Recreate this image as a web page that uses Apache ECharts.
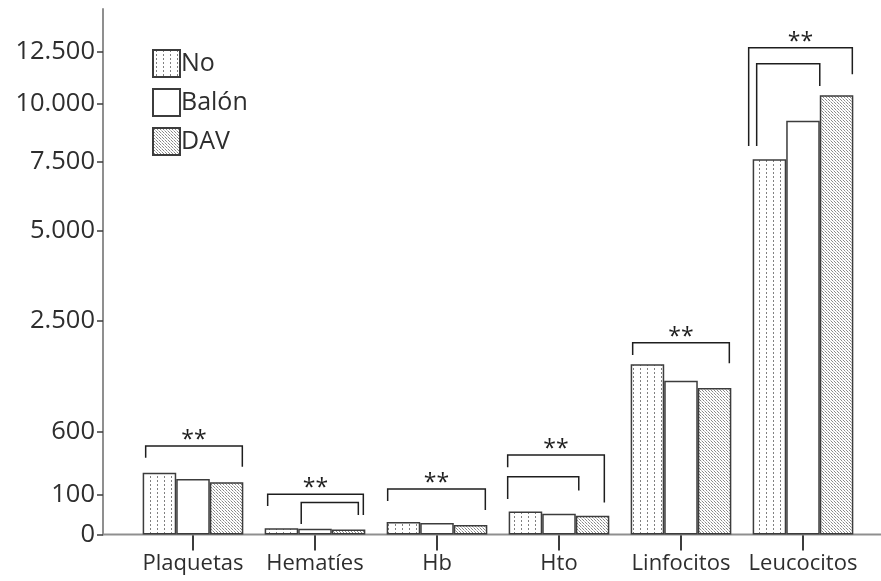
<!DOCTYPE html>
<html>
<head>
<meta charset="utf-8">
<script src="https://cdn.jsdelivr.net/npm/echarts@6/dist/echarts.min.js"></script>
<style>
  html, body { margin: 0; padding: 0; background: #ffffff; }
  #chart { width: 881px; height: 581px; }
</style>
</head>
<body>
<div id="chart"></div>
<script>
// ---- data ---------------------------------------------------------------
const categories = ['Plaquetas', 'Hematíes', 'Hb', 'Hto', 'Linfocitos', 'Leucocitos'];
const groupNames = ['No', 'Balón', 'DAV'];
const valuesNo    = [226, 5.0, 13.5, 37, 1600, 7600];
const valuesBalon = [184, 4.6, 12.0, 31, 1310, 9220];
const valuesDav   = [164, 3.7,  9.0, 26, 1190, 10380];
const tickValues  = [0, 100, 600, 2500, 5000, 7500, 10000, 12500];

// significance brackets: category, groups compared (0 = No, 1 = Balón, 2 = DAV),
// height of the bracket and of each leg's end, in data units
const brackets = [
  { cat: 0, from: 0, to: 2, top: 448,   fromEnd: 341,  toEnd: 269,   star: true },
  { cat: 1, from: 0, to: 2, top: 101,   fromEnd: 54,   toEnd: 28,    star: true },
  { cat: 1, from: 1, to: 2, top: 67,    fromEnd: 10.3, toEnd: 28,    star: false },
  { cat: 2, from: 0, to: 2, top: 127,   fromEnd: 72,   toEnd: 41.5,  star: true },
  { cat: 3, from: 0, to: 2, top: 365,   fromEnd: 265,  toEnd: 67,    star: true },
  { cat: 3, from: 0, to: 1, top: 199,   fromEnd: 80,   toEnd: 120,   star: false },
  { cat: 4, from: 0, to: 2, top: 2020,  fromEnd: 1773, toEnd: 1616,  star: true },
  { cat: 5, from: 0, to: 2, top: 12730, fromEnd: 8140, toEnd: 11390, star: true },
  { cat: 5, from: 0, to: 1, top: 11910, fromEnd: 8140, toEnd: 10820, star: false }
];
// horizontal inset (px) of each bracket leg from its bar edge
const legInsets = [[3, 1], [3, 2], [3, 7], [1, 2], [-1, 5], [-1, -3], [2, 2], [-4, 1], [4, 0]];

// ---- layout -------------------------------------------------------------
const FONT = '"Open Sans", "DejaVu Sans", sans-serif';
const TEXT = '#2e2e2e';
const GRID_LEFT = 132, GRID_RIGHT = 17, GRID_TOP = 9, GRID_BOTTOM = 46.5;
const Y_OFFSET = 29;
const CAT_GAP = 0.175;
const AXIS_MAX = 120.94;

// square-root value scale (axis baseline sits slightly above the root origin)
const SCALE_SHIFT = 0.8;
function toAxis(v) { return Math.max(0, Math.sqrt(v) - SCALE_SHIFT); }

function thousands(v) {
  return String(v).replace(/\B(?=(\d{3})+(?!\d))/g, '.');
}

// fill patterns
function makePattern(kind) {
  const c = document.createElement('canvas');
  const ctx = c.getContext('2d');
  if (kind === 'lines') {
    c.width = 7; c.height = 4;
    ctx.fillStyle = '#ffffff'; ctx.fillRect(0, 0, 7, 4);
    ctx.fillStyle = '#808080'; ctx.fillRect(3, 0, 1, 2);
  } else if (kind === 'dots') {
    c.width = 3; c.height = 3;
    ctx.fillStyle = '#ffffff'; ctx.fillRect(0, 0, 3, 3);
    ctx.fillStyle = '#8a8a8a';
    ctx.fillRect(0, 0, 1, 1); ctx.fillRect(1, 1, 1, 1);
    ctx.fillStyle = '#c4c4c4';
    ctx.fillRect(2, 2, 1, 1);
  } else {
    c.width = 2; c.height = 2;
    ctx.fillStyle = '#ffffff'; ctx.fillRect(0, 0, 2, 2);
  }
  return { image: c, repeat: 'repeat' };
}

const fills = [makePattern('lines'), makePattern('plain'), makePattern('dots')];
const seriesValues = [valuesNo, valuesBalon, valuesDav];

const barSeries = groupNames.map((name, i) => ({
  name: name,
  type: 'bar',
  barGap: '0%',
  barCategoryGap: (CAT_GAP * 100) + '%',
  data: seriesValues[i].map(toAxis),
  itemStyle: { color: fills[i], borderColor: '#3c3c3c', borderWidth: 1.5 },
  emphasis: { disabled: true },
  animation: false
}));

const bracketData = brackets.map((b, i) => [
  b.cat, toAxis(b.top), toAxis(b.fromEnd), toAxis(b.toEnd),
  b.from, b.to, legInsets[i][0], legInsets[i][1], b.star ? 1 : 0
]);

const bracketSeries = {
  type: 'custom',
  name: 'significance',
  data: bracketData,
  encode: { x: 0, y: 1 },
  silent: true,
  animation: false,
  z: 5,
  renderItem: function (params, api) {
    const cat = api.value(0);
    const topPt = api.coord([cat, api.value(1)]);
    const yA = api.coord([cat, api.value(2)])[1];
    const yB = api.coord([cat, api.value(3)])[1];
    const band = api.size([1, 0])[0];
    const groupW = band * (1 - CAT_GAP);
    const slot = groupW / 3;
    const left = topPt[0] - groupW / 2;
    const xA = left + api.value(4) * slot + api.value(6);
    const xB = left + (api.value(5) + 1) * slot - api.value(7);
    const children = [{
      type: 'polyline',
      shape: { points: [[xA, yA], [xA, topPt[1]], [xB, topPt[1]], [xB, yB]] },
      style: { stroke: '#1e1e1e', lineWidth: 1.5, fill: null }
    }];
    if (api.value(8)) {
      children.push({
        type: 'text',
        style: {
          text: '**', x: (xA + xB) / 2, y: topPt[1] + 6,
          align: 'center', verticalAlign: 'bottom',
          font: '23px ' + FONT, fill: '#1e1e1e'
        }
      });
    }
    return { type: 'group', children: children };
  }
};

const tickPositions = tickValues.map(toAxis);

const chart = echarts.init(document.getElementById('chart'), null, { renderer: 'canvas' });
chart.setOption({
  backgroundColor: '#ffffff',
  animation: false,
  grid: { left: GRID_LEFT, right: GRID_RIGHT, top: GRID_TOP, bottom: GRID_BOTTOM, containLabel: false },
  legend: {
    data: groupNames,
    orient: 'vertical',
    left: 147, top: 44,
    itemWidth: 27, itemHeight: 27, itemGap: 10,
    icon: 'rect',
    textStyle: { fontFamily: FONT, fontSize: 25, color: TEXT, padding: [0, 0, 0, -4] },
    selectedMode: false
  },
  xAxis: {
    type: 'category',
    data: categories,
    axisLine: { show: false },
    axisTick: { show: true, alignWithLabel: true, interval: 0, length: 16, lineStyle: { color: '#3c3c3c', width: 2 } },
    axisLabel: { interval: 0, margin: 18, fontFamily: FONT, fontSize: 22, color: TEXT },
    splitLine: { show: false }
  },
  yAxis: {
    type: 'value',
    min: 0,
    max: AXIS_MAX,
    offset: Y_OFFSET,
    axisLine: { show: true, lineStyle: { color: '#8f8f8f', width: 2 } },
    axisTick: { show: true, customValues: tickPositions, length: 6, lineStyle: { color: '#3c3c3c', width: 1.5 } },
    axisLabel: {
      customValues: tickPositions,
      margin: 8,
      fontFamily: FONT, fontSize: 25.5, color: TEXT,
      formatter: function (val) {
        let best = 0;
        tickPositions.forEach((p, i) => { if (Math.abs(p - val) < Math.abs(tickPositions[best] - val)) best = i; });
        return thousands(tickValues[best]);
      }
    },
    splitLine: { show: false }
  },
  series: barSeries.concat([bracketSeries])
});

// baseline running from the value axis to the right edge
const baseY = chart.convertToPixel({ yAxisIndex: 0 }, 0);
chart.setOption({
  graphic: [{
    type: 'line',
    z: 1,
    shape: { x1: GRID_LEFT - Y_OFFSET, y1: baseY, x2: 881, y2: baseY },
    style: { stroke: '#8f8f8f', lineWidth: 2 },
    silent: true
  }]
});
</script>
</body>
</html>
